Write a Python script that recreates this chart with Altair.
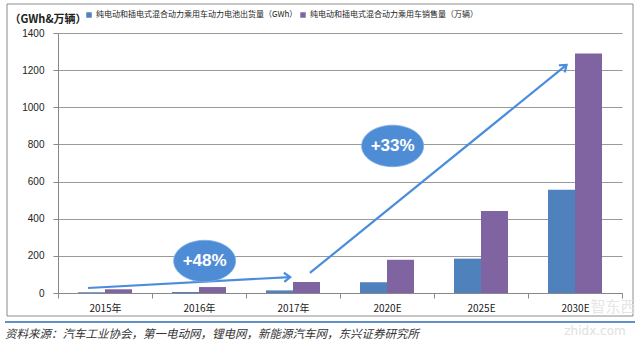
import math
import altair as alt
import pandas as pd

# ---------------- data ----------------
categories = ["2015年", "2016年", "2017年", "2020E", "2025E", "2030E"]
series_names = ["纯电动和插电式混合动力乘用车动力电池出货量（GWh）",
                "纯电动和插电式混合动力乘用车销售量（万辆）"]
battery_gwh = [4, 5, 14, 58, 185, 556]
sales_wan = [20, 32, 59, 179, 442, 1290]

y_ticks = [0, 200, 400, 600, 800, 1000, 1200, 1400]

# annotations (category-index units on x, value units on y)
bubble_x = [1.56, 3.56]
bubble_y = [172, 792]
bubble_text = ["+48%", "+33%"]

arrow_id = [1, 1, 2, 2]
arrow_x = [0.32, 2.47, 2.68, 5.41]
arrow_y = [27, 86, 108, 1228]

source_text = "资料来源：汽车工业协会，第一电动网，锂电网，新能源汽车网，东兴证券研究所"

# ---------------- layout ----------------
W, H = 564, 260
PAD = {"left": 58, "top": 33, "right": 18, "bottom": 56}
YMAX = 1400

BLUE = "#4F81BD"
PURPLE = "#8064A2"
ARROW = "#4A8DDC"
GRID = "#9A9A9A"
CJK = "Noto Sans CJK SC"

rows = []
for c, b, s in zip(categories, battery_gwh, sales_wan):
    rows.append({"cat": c, "series": series_names[0], "value": b})
    rows.append({"cat": c, "series": series_names[1], "value": s})
bars_df = pd.DataFrame(rows)

yscale = alt.Scale(domain=[0, YMAX], nice=False, zero=True)
xq = alt.Scale(domain=[0, 6], nice=False, zero=False)

bars = alt.Chart(bars_df).mark_bar().encode(
    x=alt.X("cat:N", sort=categories,
            scale=alt.Scale(paddingInner=0, paddingOuter=0),
            axis=alt.Axis(title=None, labelAngle=0, tickBand="extent",
                          labelFont=CJK, labelFontSize=10, labelColor="#222",
                          labelPadding=5, tickSize=5, tickColor="#888",
                          domainColor="#888", grid=False)),
    xOffset=alt.XOffset("series:N", sort=series_names,
                        scale=alt.Scale(paddingInner=0, paddingOuter=0.74)),
    y=alt.Y("value:Q", scale=yscale,
            axis=alt.Axis(values=y_ticks, format="d", labelOverlap=False,
                          title="（GWh&万辆）", titleAngle=0,
                          titleX=-49, titleY=-14, titleAlign="left",
                          titleBaseline="middle", titleFont=CJK,
                          titleFontSize=11, titleFontWeight="bold",
                          titleColor="#222",
                          labelFont="Liberation Sans", labelFontSize=10,
                          labelColor="#222", labelPadding=9, tickSize=5,
                          tickColor="#888", domainColor="#888",
                          gridColor=GRID, gridWidth=1)),
    color=alt.Color("series:N", sort=series_names,
                    scale=alt.Scale(domain=series_names, range=[BLUE, PURPLE]),
                    legend=alt.Legend(title=None, orient="none", legendX=27,
                                      legendY=-22, direction="horizontal",
                                      symbolType="square", symbolSize=30,
                                      symbolStrokeWidth=0, symbolOffset=0,
                                      labelFont=CJK, labelFontSize=8,
                                      labelColor="#222", labelLimit=400,
                                      labelOffset=3, columnPadding=1)),
)

# arrows
arr_df = pd.DataFrame({"id": arrow_id, "ax": arrow_x, "ay": arrow_y})
arrow_lines = alt.Chart(arr_df).mark_line(color=ARROW, strokeWidth=2.2).encode(
    x=alt.X("ax:Q", scale=xq, axis=None),
    y=alt.Y("ay:Q", scale=yscale, axis=None),
    detail="id:N",
)

heads = []
for i in sorted(set(arrow_id)):
    pts = [(x, y) for k, x, y in zip(arrow_id, arrow_x, arrow_y) if k == i]
    (x0, y0), (x1, y1) = pts[0], pts[-1]
    dxp = (x1 - x0) * W / 6
    dyp = -(y1 - y0) * H / YMAX
    ang = math.degrees(math.atan2(dyp, dxp)) % 360
    heads.append({"ax": x1, "ay": y1, "ang": ang})
heads_df = pd.DataFrame(heads)
arrow_heads = alt.Chart(heads_df).mark_point(
    shape="M-1,-0.75L0,0L-1,0.75", filled=False, stroke=ARROW,
    strokeWidth=2.2, size=150, opacity=1,
).encode(
    x=alt.X("ax:Q", scale=xq, axis=None),
    y=alt.Y("ay:Q", scale=yscale, axis=None),
    angle=alt.Angle("ang:Q", scale=None),
)

bub_df = pd.DataFrame({"bx": bubble_x, "by": bubble_y, "t": bubble_text})
bubbles = alt.Chart(bub_df).mark_point(
    shape="M-1,0A1,0.67,0,1,1,1,0A1,0.67,0,1,1,-1,0Z",
    filled=True, fill="#4E8DD6", size=3844, opacity=1,
    stroke="#7FAEE6", strokeWidth=0.8,
).encode(
    x=alt.X("bx:Q", scale=xq, axis=None),
    y=alt.Y("by:Q", scale=yscale, axis=None),
)
bubble_labels = alt.Chart(bub_df).mark_text(
    color="white", font="Liberation Sans", fontSize=17, fontWeight="bold",
    align="center", baseline="middle",
).encode(
    x=alt.X("bx:Q", scale=xq, axis=None),
    y=alt.Y("by:Q", scale=yscale, axis=None),
    text="t:N",
)

one = pd.DataFrame({"a": [0]})
frame = alt.Chart(one).mark_rect(fill="transparent", stroke="#8C8C8C",
                                 strokeWidth=1).encode(
    x=alt.value(-51), x2=alt.value(575), y=alt.value(-29), y2=alt.value(283))
blue_rule = alt.Chart(one).mark_rule(color="#2E6DB4", strokeWidth=1.5).encode(
    x=alt.value(-53), x2=alt.value(577), y=alt.value(289))
src = alt.Chart(pd.DataFrame({"t": [source_text]})).mark_text(
    font=CJK, fontSize=11.5, fontStyle="italic", color="#333",
    align="left", baseline="middle").encode(
    x=alt.value(-53), y=alt.value(302), text="t:N")
wm1 = alt.Chart(pd.DataFrame({"t": ["智东西"]})).mark_text(
    font=CJK, fontSize=15, color="#E2E2E2", opacity=0.85,
    align="center", baseline="middle").encode(
    x=alt.value(555), y=alt.value(274), text="t:N")
wm2 = alt.Chart(pd.DataFrame({"t": ["zhidx.com"]})).mark_text(
    font="DejaVu Sans", fontSize=12, color="#E0E0E0",
    align="center", baseline="middle").encode(
    x=alt.value(537), y=alt.value(298), text="t:N")

chart = alt.layer(
    frame, bars, arrow_lines, arrow_heads, bubbles, bubble_labels,
    blue_rule, src, wm1, wm2,
).resolve_scale(x="independent").resolve_axis(y="independent").properties(
    width=W, height=H, padding=PAD, autosize=alt.AutoSizeParams(type="none"),
    background="white",
).configure_view(stroke=None)

chart.save("out.html", embed_options={"renderer": "svg", "actions": False})
